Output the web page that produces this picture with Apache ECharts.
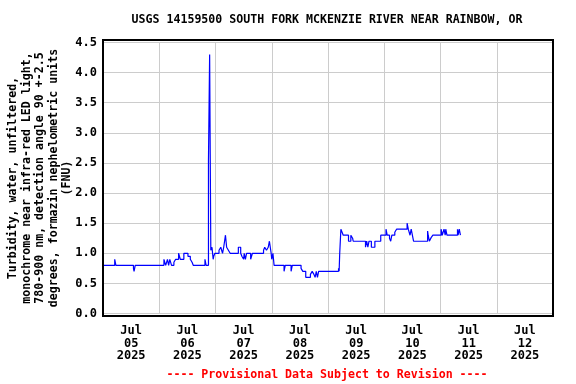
<!DOCTYPE html>
<html>
<head>
<meta charset="utf-8">
<script src="https://cdn.jsdelivr.net/npm/echarts@6/dist/echarts.min.js"></script>
<style>
html,body{margin:0;padding:0;background:#fff;}
#chart{width:576px;height:384px;}
</style>
</head>
<body>
<div id="chart"></div>
<script>
const chartTitle = 'USGS 14159500 SOUTH FORK MCKENZIE RIVER NEAR RAINBOW, OR';
const yAxisTitle = 'Turbidity, water, unfiltered,\nmonochrome near infra-red LED light,\n780-900 nm, detection angle 90 +-2.5\ndegrees, formazin nephelometric units\n(FNU)';
const footerText = '---- Provisional Data Subject to Revision ----';
const dayLabels = ['Jul\n05\n2025','Jul\n06\n2025','Jul\n07\n2025','Jul\n08\n2025','Jul\n09\n2025','Jul\n10\n2025','Jul\n11\n2025','Jul\n12\n2025'];
const yTicks = [0,0.5,1,1.5,2,2.5,3,3.5,4,4.5];
// hours since 2025-07-05 00:00
const hours = [0,5.0,5.5,13.0,13.25,13.75,26.0,26.75,27.5,28.0,28.5,29.25,30.25,31.0,32.25,33.0,34.5,36.25,37.25,38.0,38.5,43.5,44.0,
45.0,45.5,45.75,46.0,46.5,47.0,47.25,47.75,49.5,50.25,51.0,51.5,52.25,52.75,53.5,54.25,57.75,58.75,59.25,60.0,60.25,60.75,61.25,63.0,63.75,
68.5,69.0,69.75,70.5,71.0,71.75,72.0,72.5,72.75,73.0,77.25,77.75,80.25,80.75,84.5,85.25,86.5,88.5,89.25,90.0,90.5,91.0,91.5,92.0,
100.5,100.75,101.0,101.5,102.0,102.5,104.75,105.75,106.5,106.75,112.0,112.5,113.0,113.5,114.5,116.0,118.5,120.75,121.25,122.25,122.75,123.25,
124.5,125.25,129.75,130.25,131.0,131.5,132.0,132.5,138.5,138.75,139.25,140.0,140.75,144.25,144.75,145.5,146.0,146.25,146.75,151.25,151.5,152.0,152.5];
const values = [0.8,0.9,0.8,0.75,0.7,0.8,0.9,0.8,0.9,0.8,0.9,0.8,0.85,0.9,1.0,0.9,1.0,0.95,0.9,0.85,0.8,0.9,0.8,
2.55,4.3,2.65,1.05,1.1,0.9,0.95,1.0,1.05,1.1,1.0,1.1,1.3,1.1,1.05,1.0,1.1,1.0,0.95,0.9,1.0,0.9,1.0,0.9,1.0,
1.05,1.1,1.05,1.1,1.2,1.0,0.9,1.0,0.9,0.8,0.7,0.8,0.7,0.8,0.75,0.7,0.6,0.65,0.7,0.65,0.6,0.7,0.6,0.7,
0.75,0.7,1.0,1.4,1.35,1.3,1.2,1.3,1.25,1.2,1.1,1.2,1.1,1.2,1.1,1.2,1.3,1.4,1.3,1.25,1.2,1.3,
1.35,1.4,1.5,1.4,1.3,1.4,1.3,1.2,1.37,1.3,1.2,1.26,1.3,1.4,1.3,1.4,1.3,1.4,1.3,1.4,1.3,1.4,1.3];

const FONT = 'DejaVu Sans Mono';
const seriesData = hours.map((h, i) => [h, values[i]]);
const chart = echarts.init(document.getElementById('chart'), null, {renderer: 'canvas'});
chart.setOption({
  animation: false,
  backgroundColor: '#ffffff',
  grid: {left: 103, right: 23, top: 42.5, bottom: 70.5, containLabel: false, outerBoundsMode: 'none'},
  xAxis: [{
    type: 'value', min: 0, max: 192, interval: 24,
    axisLine: {show: false}, axisTick: {show: false}, axisLabel: {show: false},
    splitLine: {show: true, lineStyle: {color: '#cccccc', width: 1}}
  }, {
    type: 'category', data: dayLabels, boundaryGap: true, position: 'bottom',
    axisLine: {show: false}, axisTick: {show: false}, splitLine: {show: false},
    axisLabel: {fontFamily: FONT, fontWeight: 'bold', fontSize: 12, color: '#000', lineHeight: 12.7, margin: 11, interval: 0}
  }],
  yAxis: {
    type: 'value', min: 0, max: 4.5, interval: 0.5,
    axisLine: {show: false}, axisTick: {show: false},
    axisLabel: {fontFamily: FONT, fontWeight: 'bold', fontSize: 12, color: '#000', margin: 6,
      formatter: v => v.toFixed(1)},
    splitLine: {show: true, lineStyle: {color: '#cccccc', width: 1}},
    name: yAxisTitle, nameLocation: 'middle', nameRotate: 90, nameGap: 29, nameMoveOverlap: false,
    nameTextStyle: {fontFamily: FONT, fontWeight: 'bold', fontSize: 11.6, color: '#000', lineHeight: 13.5, align: 'center'}
  },
  series: [{
    type: 'line', xAxisIndex: 0, data: seriesData, step: 'end', showSymbol: false,
    lineStyle: {color: '#0000ff', width: 1.2}, itemStyle: {color: '#0000ff'}
  }],
  graphic: [
    {type: 'rect', shape: {x: 103, y: 40, width: 450, height: 276}, style: {fill: null, stroke: '#000', lineWidth: 2}, z: 100},
    {type: 'text', x: 327, y: 20, style: {text: chartTitle, font: 'bold 11.6px "DejaVu Sans Mono"', fill: '#000', align: 'center', verticalAlign: 'middle'}},
    {type: 'text', x: 327, y: 375, style: {text: footerText, font: 'bold 11.6px "DejaVu Sans Mono"', fill: '#ff0000', align: 'center', verticalAlign: 'middle'}}
  ]
});
</script>
</body>
</html>
